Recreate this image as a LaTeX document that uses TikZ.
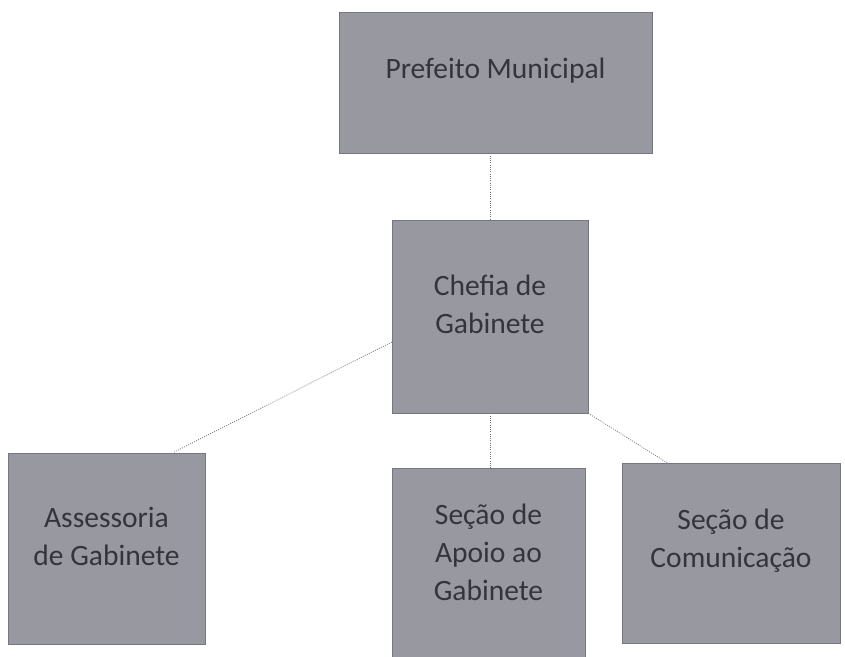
\documentclass[tikz,border=0pt]{standalone}
\usepackage{fontspec}
\setmainfont{Carlito}
\usetikzlibrary{positioning}

\definecolor{boxfill}{RGB}{152,152,161}
\definecolor{boxline}{RGB}{118,118,128}
\definecolor{txtcol}{RGB}{52,52,62}
\definecolor{linecol}{RGB}{115,115,125}

\tikzset{
  box/.style={draw=boxline, fill=boxfill, thin, inner sep=0pt},
  txt/.style={text=txtcol, font=\fontsize{21}{27}\selectfont, align=center, yshift=0.3cm},
  link/.style={linecol, line width=0.6pt, densely dotted}
}

\begin{document}
\begin{tikzpicture}[x=0.025cm, y=-0.025cm]
\useasboundingbox (0,0) rectangle (845,656);
%boxes
\node[box, minimum width=7.825cm, minimum height=3.525cm,
  label={[txt]center:Prefeito Municipal}] (prefeito) at (495.5,82.5) {};
\node[box, minimum width=4.9cm, minimum height=4.825cm,
  label={[txt]center:Chefia de\\Gabinete}] (chefia) at (490,316.5) {};
\node[box, minimum width=4.925cm, minimum height=4.775cm,
  label={[txt]center:Assessoria\\de Gabinete}] (assessoria) at (106.5,548.5) {};
\node[box, minimum width=4.825cm, minimum height=4.825cm,
  label={[txt]center:Seção de\\Apoio ao\\Gabinete}] (apoio) at (488.5,564.5) {};
\node[box, minimum width=5.45cm, minimum height=4.5cm,
  label={[txt]center:Seção de\\Comunicação}] (comunicacao) at (731,553) {};
%links
\draw[link] (prefeito.south -| chefia.north) -- (chefia.north);
\draw[link] (chefia.south) -- (chefia.south |- apoio.north);
\draw[link] ([yshift=-0.64cm]chefia.west) -- ([xshift=1.66cm]assessoria.north);
\draw[link] (chefia.south east) -- ([xshift=-1.6cm]comunicacao.north);
\end{tikzpicture}
\end{document}
